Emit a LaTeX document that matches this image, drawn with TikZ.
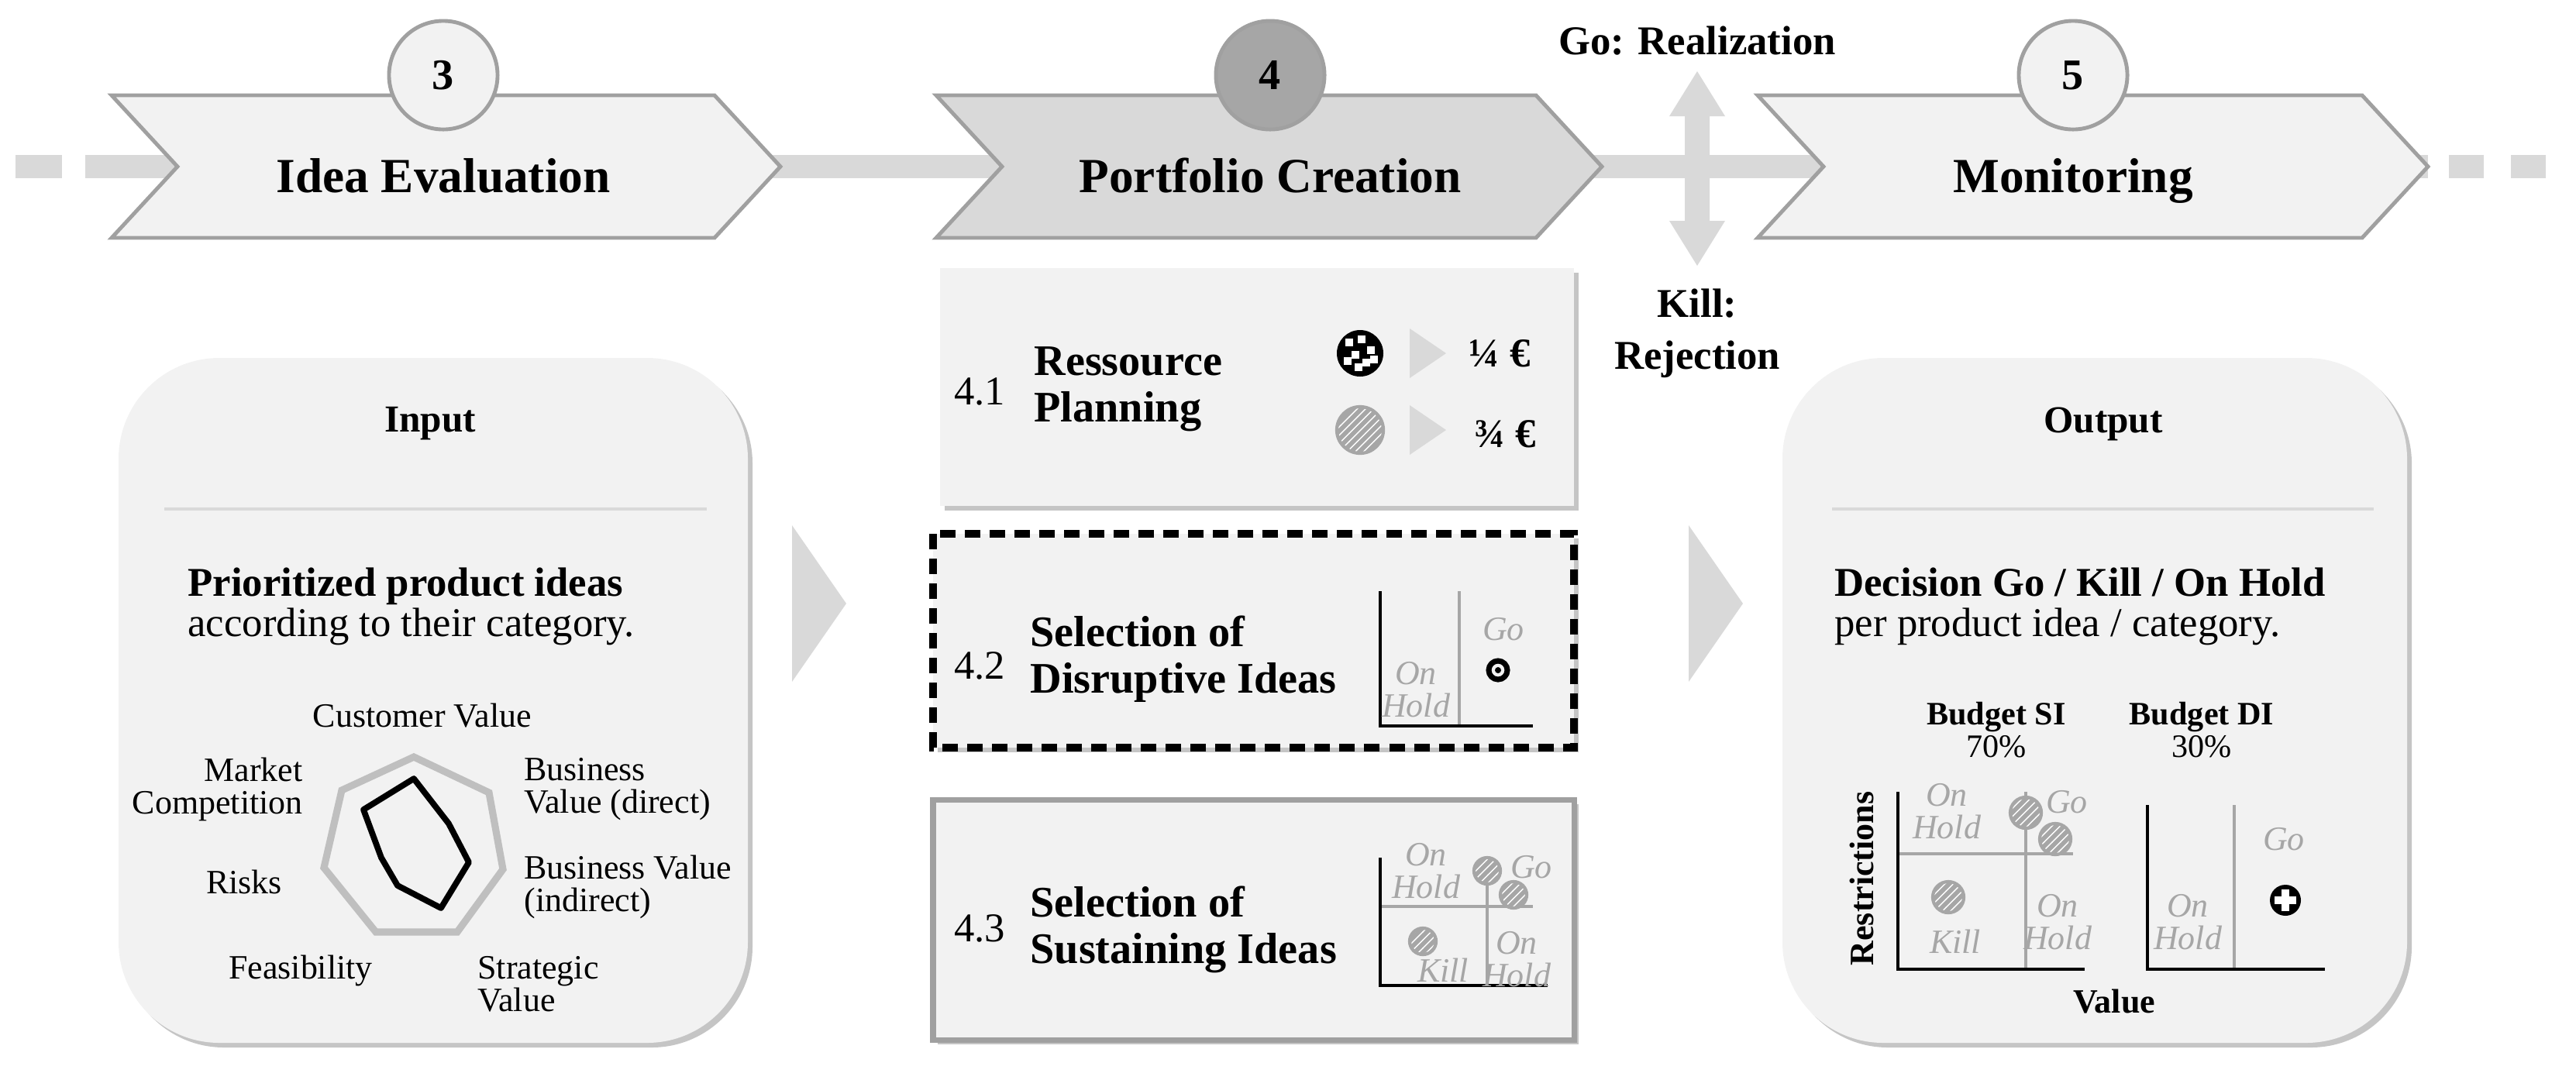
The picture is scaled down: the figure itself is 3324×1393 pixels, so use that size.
\documentclass[tikz,border=0pt]{standalone}
\usepackage{fontspec}
\setmainfont{Liberation Serif}
\usetikzlibrary{shadows,patterns}
\definecolor{boxfill}{HTML}{F2F2F2}
\definecolor{lineg}{HTML}{D9D9D9}
\definecolor{edgeg}{HTML}{A0A0A0}
\definecolor{lblg}{HTML}{A6A6A6}
\begin{document}
\begin{tikzpicture}[x={(0.01cm,0)},y={(0,-0.01cm)},
  chev/.style={draw=edgeg,line width=1.4pt,fill=boxfill,line join=miter},
  num/.style={circle,draw=edgeg,line width=1.4pt,fill=boxfill,minimum size=1.4cm,inner sep=0pt,font=\fontsize{16}{18}\selectfont\bfseries},
  ttl/.style={font=\fontsize{18}{20}\selectfont\bfseries,anchor=base},
  bigbox/.style={draw=none,fill=boxfill,rounded corners=1.3cm,drop shadow={shadow xshift=0.06cm,shadow yshift=-0.06cm,fill=black!45}},
  pbox/.style={fill=boxfill,drop shadow={shadow xshift=0.06cm,shadow yshift=-0.06cm,fill=black!45}},
  hd/.style={font=\fontsize{14}{16}\selectfont\bfseries},
  bt/.style={font=\fontsize{15}{17}\selectfont\bfseries,align=left,anchor=west},
  ax/.style={font=\fontsize{12.5}{14}\selectfont},
  stp/.style={font=\fontsize{16}{19}\selectfont\bfseries,align=left,anchor=west},
  snum/.style={font=\fontsize{15}{17}\selectfont},
  ml/.style={font=\fontsize{12.5}{13}\selectfont\itshape,text=lblg,inner sep=0pt},
  axis/.style={line width=1.3pt,black},
  gax/.style={line width=1.1pt,lblg},
  tri/.style={fill=lineg,draw=none},
  hatch/.style={circle,inner sep=0pt,draw=lblg,line width=1.2pt,preaction={fill=lblg},pattern=north east lines,pattern color=white},
]
\useasboundingbox (0,0) rectangle (3324,1393);
% timeline
\draw[lineg,line width=0.3cm] (144,215) -- (3133,215);
\draw[lineg,line width=0.3cm,dash pattern=on 0.6cm off 0.3cm] (20,215) -- (144,215);
\draw[lineg,line width=0.3cm,dash pattern=on 0.45cm off 0.35cm] (3160,215) -- (3310,215);
% chevrons
\draw[chev] (144,123) -- (922,123) -- (1007,215) -- (922,307) -- (144,307) -- (229,215) -- cycle;
\draw[chev,fill=lineg] (1208,123) -- (1982,123) -- (2067,215) -- (1982,307) -- (1208,307) -- (1293,215) -- cycle;
\draw[chev] (2268,123) -- (3048,123) -- (3133,215) -- (3048,307) -- (2268,307) -- (2353,215) -- cycle;
\node[num] (n3) at (572,97) {3};
\node[num,fill=black!35] (n4) at (1639,97) {4};
\node[num] (n5) at (2675,97) {5};
\node[ttl] (t3) at (572,248) {Idea Evaluation};
\node[ttl] (t4) at (1639,248) {Portfolio Creation};
\node[ttl] (t5) at (2675,248) {Monitoring};
% go/kill arrow
\fill[lineg] (2190,92) -- (2226,150) -- (2206,150) -- (2206,285) -- (2226,285) -- (2190,343) -- (2154,285) -- (2174,285) -- (2174,150) -- (2154,150) -- cycle;
\node[font=\fontsize{15}{17}\selectfont\bfseries] (go) at (2190,53) {Go: Realization};
\node[font=\fontsize{15}{17}\selectfont\bfseries,align=center] (kill) at (2190,430) {Kill:\\[2pt]Rejection};
% input box
\path[bigbox] (153,462) rectangle (965,1346);
\node[hd] (in) at (555,547) {Input};
\draw[lineg,line width=1.2pt] (212,657) -- (912,657);
\node[bt,anchor=north west,align=left] (pin) at (230,720) {Prioritized product ideas\\[-2pt]\mdseries according to their category.};
% radar
\draw[black!25,line width=2.6pt] (534,977) -- (631,1023) -- (649,1122) -- (590,1203) -- (485,1203) -- (418,1120) -- (441,1020) -- cycle;
\draw[black,line width=2.2pt,line join=round] (534,1005) -- (579,1063) -- (605,1113) -- (569,1172) -- (513,1143) -- (492,1107) -- (469,1045) -- cycle;
\node[ax] (cv) at (545,924) {Customer Value};
\node[ax,anchor=east,align=right] (mc) at (403,1019) {Market\\[-2pt]Competition};
\node[ax,anchor=west,align=left] (bvd) at (664,1019) {Business\\[-2pt]Value (direct)};
\node[ax,anchor=west,align=left] (bvi) at (664,1145) {Business Value\\[-2pt](indirect)};
\node[ax] (rk) at (315,1138) {Risks};
\node[ax] (fe) at (388,1253) {Feasibility};
\node[ax,anchor=west,align=left] (sv) at (604,1270) {Strategic\\[-2pt]Value};
% middle arrows
\fill[tri] (1022,678) -- (1092,779) -- (1022,880) -- cycle;
\fill[tri] (2179,678) -- (2249,779) -- (2179,880) -- cycle;
% 4.1
\path[pbox] (1213,346) rectangle (2031,653);
\node[snum] (s41) at (1264,505) {4.1};
\node[stp] (p41) at (1322,502) {Ressource\\[-2pt]Planning};
\fill[black] (1755,456) circle (30);
\foreach \a/\b in {-14/-14,2/-18,14/-4,-6/2,8/12,-16/10,-2/18,18/8}{\fill[white] (1755+\a-5,456+\b-5) rectangle +(10,10);}
\node[hatch,minimum size=0.6cm] (hc) at (1755,555) {};
\fill[tri] (1819,424) -- (1866,456) -- (1819,488) -- cycle;
\fill[tri] (1819,523) -- (1866,555) -- (1819,587) -- cycle;
\node[font=\fontsize{15}{17}\selectfont\bfseries] (q1) at (1935,456) {¼ €};
\node[font=\fontsize{15}{17}\selectfont\bfseries] (q3) at (1942,560) {¾ €};
% 4.2
\path[pbox] (1204,689) rectangle (2031,965);
\draw[black,line width=2.6pt,dash pattern=on 0.2cm off 0.12cm] (1204,689) rectangle (2031,965);
\node[snum] (s42) at (1264,859) {4.2};
\node[stp] (p42) at (1317,851) {Selection of\\[-2pt]Disruptive Ideas};
\draw[gax] (1883,763) -- (1883,937);
\draw[axis] (1781,763) -- (1781,937) -- (1978,937);
\node[ml] (g42) at (1940,812) {Go};
\node[ml,align=center] (h42) at (1827,890) {On\\[-1pt]Hold};
\draw[black,line width=2pt] (1933,865) circle (12);
\fill[black] (1933,865) circle (4);
% 4.3
\path[pbox] (1204,1032) rectangle (2031,1342);
\draw[edgeg,line width=2pt] (1204,1032) rectangle (2031,1342);
\node[snum] (s43) at (1264,1198) {4.3};
\node[stp] (p43) at (1317,1200) {Selection of\\[-2pt]Sustaining Ideas};
\draw[gax] (1781,1170) -- (1978,1170);
\draw[gax] (1919,1107) -- (1919,1272);
\draw[axis] (1781,1107) -- (1781,1272) -- (1997,1272);
\node[ml,align=center] (h43a) at (1840,1124) {On\\[-1pt]Hold};
\node[ml] (g43) at (1976,1119) {Go};
\node[ml] (k43) at (1862,1252) {Kill};
\node[ml,align=center] (h43b) at (1957,1238) {On\\[-1pt]Hold};
\node[hatch,minimum size=0.34cm] (c43a) at (1919,1124) {};
\node[hatch,minimum size=0.34cm] (c43b) at (1953,1155) {};
\node[hatch,minimum size=0.34cm] (c43c) at (1836,1215) {};
% output box
\path[bigbox] (2300,462) rectangle (3106,1346);
\node[hd] (out) at (2714,547) {Output};
\draw[lineg,line width=1.2pt] (2364,657) -- (3063,657);
\node[bt,anchor=north west,align=left] (dec) at (2355,720) {Decision Go / Kill / On Hold\\[-2pt]\mdseries per product idea / category.};
\node[font=\fontsize{12}{14}\selectfont,align=center] (bsi) at (2576,942) {\textbf{Budget SI}\\[-2pt]70\%};
\node[font=\fontsize{12}{14}\selectfont,align=center] (bdi) at (2841,942) {\textbf{Budget DI}\\[-2pt]30\%};
\draw[gax] (2449,1102) -- (2675,1102);
\draw[gax] (2614,1022) -- (2614,1251);
\draw[axis] (2449,1022) -- (2449,1251) -- (2690,1251);
\node[ml,align=center] (h5a) at (2512,1047) {On\\[-1pt]Hold};
\node[ml] (g5a) at (2667,1035) {Go};
\node[ml] (k5) at (2523,1215) {Kill};
\node[ml,align=center] (h5b) at (2655,1190) {On\\[-1pt]Hold};
\node[hatch,minimum size=0.4cm] (c5a) at (2614,1049) {};
\node[hatch,minimum size=0.4cm] (c5b) at (2652,1083) {};
\node[hatch,minimum size=0.4cm] (c5c) at (2514,1158) {};
\draw[gax] (2883,1039) -- (2883,1251);
\draw[axis] (2771,1039) -- (2771,1251) -- (3000,1251);
\node[ml] (g5b) at (2947,1083) {Go};
\node[ml,align=center] (h5c) at (2823,1190) {On\\[-1pt]Hold};
\fill[black] (2949,1162) circle (20);
\fill[white] (2944,1148) rectangle (2954,1176);
\fill[white] (2935,1157) rectangle (2963,1167);
\node[font=\fontsize{12.5}{14}\selectfont\bfseries,rotate=90] (rs) at (2402,1134) {Restrictions};
\node[font=\fontsize{12.5}{14}\selectfont\bfseries] (vl) at (2728,1293) {Value};
\end{tikzpicture}
\end{document}
